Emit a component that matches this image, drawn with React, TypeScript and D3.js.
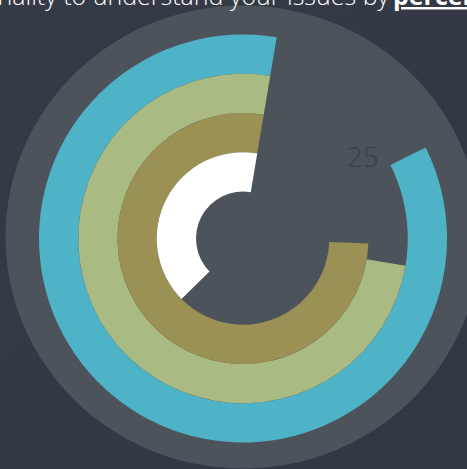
import React from "react";
import * as d3 from "d3";

const categories = ["Issues A", "Issues B", "Issues C", "Issues D"];
const values = [85, 75, 77, 40];
const colors = ["#4fb3c8", "#a9ba82", "#9b9155", "#ffffff"];
const axisLabels = [{ text: "25", value: 87 }];
const headingLead = "functionality to understand your issues by ";
const headingBold = "percentage";

const W = 467;
const H = 469;
const cx = 243;
const cy = 238.5;

export default function App() {
  const deg = Math.PI / 180;
  const angle = d3.scaleLinear().domain([0, 100]).range([369.5 * deg, 9.5 * deg]);
  const radius = d3
    .scaleBand<string>()
    .domain([...categories].reverse())
    .range([47, 204])
    .padding(0);

  const arcGen = d3.arc<any>();

  return (
    <svg
      width={W}
      height={H}
      style={{ position: "fixed", left: 0, top: 0, display: "block" }}
    >
      <defs>
        <linearGradient id="bg" x1="0" y1="0" x2="1" y2="1">
          <stop offset="0" stopColor="#353b46" />
          <stop offset="1" stopColor="#323843" />
        </linearGradient>
      </defs>
      <rect width={W} height={H} fill="url(#bg)" />
      <ellipse cx={cx} cy={237} rx={237.5} ry={231.5} fill="#4c535b" />
      <g transform={`translate(${cx},${cy})`}>
        {categories.map((c, i) => {
          const r0 = radius(c)!;
          const d = arcGen({
            innerRadius: r0,
            outerRadius: r0 + radius.bandwidth(),
            startAngle: angle(values[i]),
            endAngle: angle(0),
          });
          return <path key={c} d={d || ""} fill={colors[i]} />;
        })}
        {axisLabels.map((l) => {
          const a = angle(l.value);
          const r = 144;
          return (
            <text
              key={l.text}
              x={Math.sin(a) * r}
              y={-Math.cos(a) * r}
              dy={-3}
              textAnchor="middle"
              dominantBaseline="central"
              fontFamily="'Open Sans', sans-serif"
              fontWeight={300}
              fontSize={28}
              fill="#3b3f45"
            >
              {l.text}
            </text>
          );
        })}
      </g>
      <text
        x={389}
        y={5}
        textAnchor="end"
        fontFamily="'Open Sans', sans-serif"
        fontWeight={300}
        fontSize={25}
        fill="#ffffff"
      >
        {headingLead}
      </text>
      <text
        x={393}
        y={5}
        fontFamily="'Open Sans', sans-serif"
        fontWeight={700}
        fontSize={25}
        fill="#ffffff"
        textDecoration="underline"
      >
        {headingBold}
      </text>
    </svg>
  );
}
